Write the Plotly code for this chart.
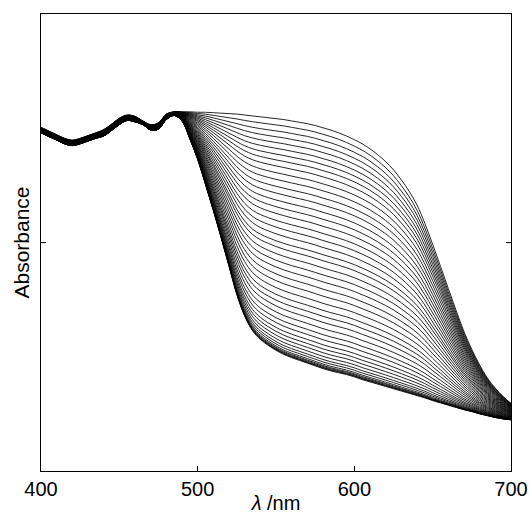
import plotly.graph_objects as go

# wavelength grid (nm)
wavelength = [400, 405, 410, 415, 420, 425, 430, 435, 440, 445, 450, 455, 460, 465, 470,
              475, 480, 485, 490, 495, 500, 505, 510, 515, 520, 525, 530, 535, 540, 545,
              550, 555, 560, 565, 570, 575, 580, 585, 590, 595, 600, 605, 610, 615, 620,
              625, 630, 635, 640, 645, 650, 655, 660, 665, 670, 675, 680, 685, 690, 695, 700]

# first (initial) spectrum
initial_abs = [0.752, 0.744, 0.736, 0.728, 0.724, 0.728, 0.734, 0.740, 0.747, 0.759, 0.772,
               0.779, 0.776, 0.766, 0.758, 0.762, 0.781, 0.786, 0.786, 0.786, 0.785, 0.785,
               0.784, 0.783, 0.782, 0.781, 0.779, 0.777, 0.775, 0.773, 0.771, 0.769, 0.766,
               0.763, 0.760, 0.756, 0.751, 0.746, 0.740, 0.733, 0.725, 0.716, 0.705, 0.692,
               0.677, 0.659, 0.637, 0.612, 0.582, 0.542, 0.496, 0.448, 0.399, 0.351, 0.305,
               0.266, 0.232, 0.203, 0.181, 0.163, 0.148]

# last (final) spectrum
final_abs = [0.740, 0.732, 0.724, 0.716, 0.712, 0.716, 0.722, 0.728, 0.733, 0.745, 0.758,
             0.767, 0.764, 0.758, 0.746, 0.748, 0.769, 0.778, 0.766, 0.727, 0.682, 0.627,
             0.570, 0.510, 0.448, 0.386, 0.339, 0.307, 0.288, 0.275, 0.264, 0.255, 0.248,
             0.242, 0.236, 0.230, 0.224, 0.219, 0.215, 0.211, 0.206, 0.200, 0.195, 0.190,
             0.185, 0.180, 0.175, 0.170, 0.165, 0.160, 0.154, 0.149, 0.144, 0.139, 0.134,
             0.130, 0.125, 0.121, 0.117, 0.114, 0.112]

fraction_initial = [1.000, 0.973, 0.947, 0.922, 0.897, 0.872, 0.847, 0.822, 0.796, 0.767,
                    0.738, 0.708, 0.679, 0.649, 0.620, 0.591, 0.561, 0.532, 0.503, 0.473,
                    0.448, 0.418, 0.389, 0.360, 0.330, 0.301, 0.271, 0.242, 0.217, 0.192,
                    0.166, 0.141, 0.120, 0.099, 0.082, 0.066, 0.051, 0.038, 0.028, 0.019,
                    0.013, 0.009, 0.005, 0.003, 0.000]

x_ticks = [400, 500, 600, 700]

fig = go.Figure()
for c in fraction_initial:
    y = [c * a + (1 - c) * b for a, b in zip(initial_abs, final_abs)]
    fig.add_trace(go.Scatter(x=wavelength, y=y, mode="lines",
                             line=dict(color="black", width=0.85, shape="spline", smoothing=1),
                             showlegend=False, hoverinfo="skip"))

family = "Liberation Sans, Arial, sans-serif"
font = dict(family=family, size=20, color="black")

fig.update_layout(
    width=529, height=514,
    margin=dict(l=41, r=18, t=14, b=43),
    paper_bgcolor="white", plot_bgcolor="white",
    font=font,
    xaxis=dict(range=[400, 700], tickvals=x_ticks, ticks="inside", ticklen=5,
               tickcolor="black", showline=True, linecolor="black", linewidth=1,
               mirror=True, showgrid=False, zeroline=False, automargin=False,
               tickfont=font,
               title=dict(text="<i>λ</i> /nm", standoff=8, font=font)),
    yaxis=dict(range=[0, 1], tickvals=[0.5], showticklabels=False, ticks="inside",
               ticklen=5, tickcolor="black", showline=True, linecolor="black",
               linewidth=1, mirror="ticks", showgrid=False, zeroline=False,
               automargin=False,
               title=dict(text="Absorbance", standoff=4,
                          font=dict(family=family, size=21, color="black"))),
)

fig.write_html("out.html", config={"displayModeBar": False},
               post_script="document.body.style.margin='0';document.body.style.overflow='hidden';")
